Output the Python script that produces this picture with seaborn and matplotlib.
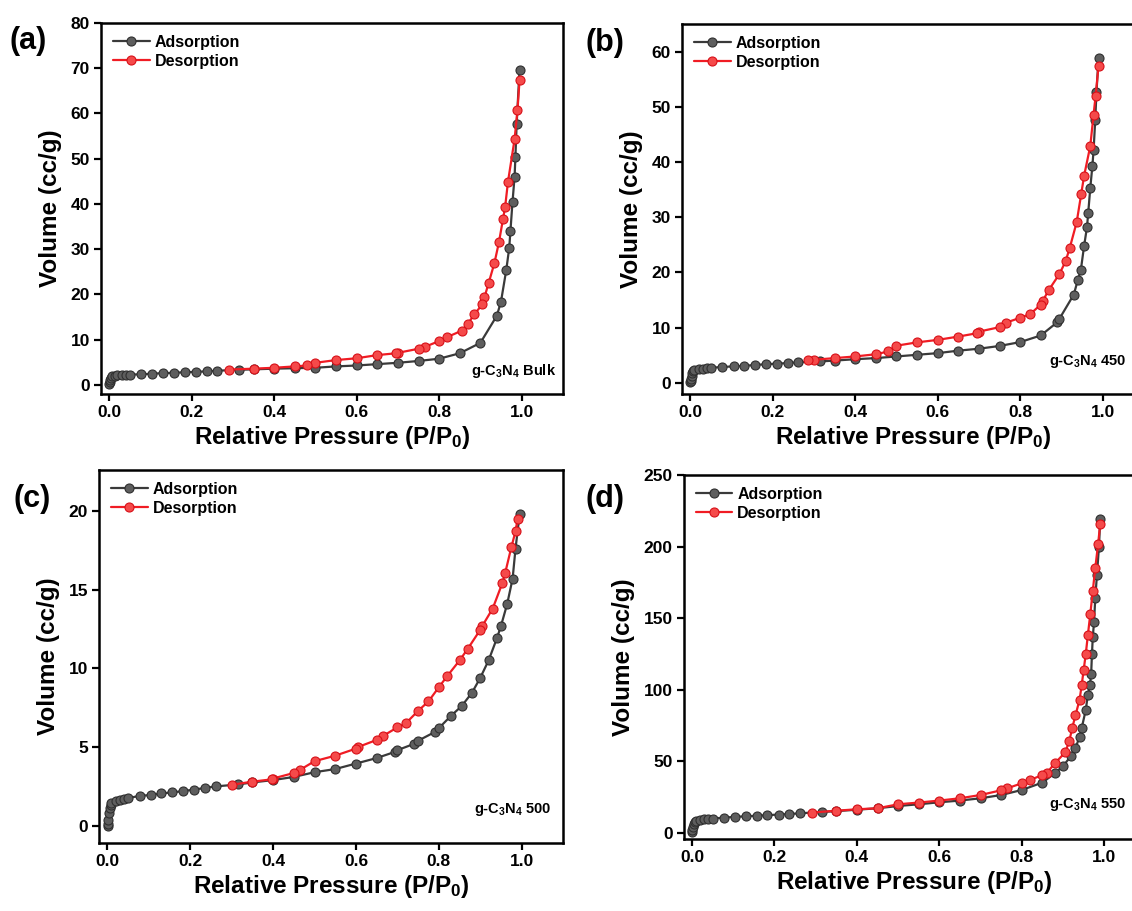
import numpy as np
import pandas as pd
import matplotlib
matplotlib.use("Agg")
import matplotlib.pyplot as plt
import seaborn as sns

# ---------------- data ----------------
a_ads_p = [0.0005, 0.001, 0.002, 0.004, 0.007, 0.013, 0.02, 0.03, 0.04, 0.05, 0.078, 0.104, 0.13, 0.157,
           0.183, 0.21, 0.236, 0.262, 0.315, 0.35, 0.40, 0.45, 0.50, 0.55, 0.60, 0.65, 0.70, 0.75, 0.80,
           0.85, 0.90, 0.94, 0.95, 0.963, 0.97, 0.973, 0.978, 0.983, 0.985, 0.988, 0.995]
a_ads_v = [0.3, 0.6, 1.0, 1.5, 1.9, 2.0, 2.1, 2.2, 2.25, 2.3, 2.35, 2.5, 2.6, 2.7,
           2.8, 2.9, 3.0, 3.15, 3.35, 3.45, 3.6, 3.7, 3.8, 4.1, 4.3, 4.6, 4.9, 5.3, 5.8,
           7.0, 9.3, 15.3, 18.4, 25.5, 30.3, 34.1, 40.5, 46.0, 50.4, 57.6, 69.7]
a_des_p = [0.995, 0.99, 0.983, 0.967, 0.96, 0.955, 0.945, 0.934, 0.92, 0.91, 0.905, 0.885, 0.87, 0.855,
           0.82, 0.80, 0.765, 0.75, 0.70, 0.695, 0.65, 0.60, 0.55, 0.50, 0.48, 0.45, 0.40, 0.35, 0.29]
a_des_v = [67.3, 60.7, 54.3, 44.9, 39.3, 36.7, 31.5, 26.9, 22.5, 19.4, 17.8, 15.6, 13.5, 12.0,
           10.6, 9.7, 8.4, 8.0, 7.1, 7.0, 6.6, 5.9, 5.5, 4.9, 4.3, 4.1, 3.8, 3.6, 3.4]

b_ads_p = [0.0005, 0.001, 0.002, 0.003, 0.005, 0.007, 0.01, 0.02, 0.03, 0.04, 0.05, 0.078, 0.105, 0.13,
           0.157, 0.183, 0.21, 0.236, 0.262, 0.315, 0.35, 0.40, 0.45, 0.50, 0.55, 0.60, 0.65, 0.70,
           0.75, 0.80, 0.85, 0.89, 0.895, 0.93, 0.94, 0.947, 0.955, 0.962, 0.965, 0.97, 0.975,
           0.978, 0.982, 0.985, 0.99]
b_ads_v = [0.1, 0.4, 0.8, 1.3, 1.8, 2.2, 2.4, 2.5, 2.6, 2.7, 2.75, 2.9, 3.0, 3.1,
           3.25, 3.4, 3.5, 3.6, 3.75, 3.9, 4.05, 4.3, 4.5, 4.8, 5.1, 5.4, 5.85, 6.2,
           6.7, 7.4, 8.6, 11.0, 11.6, 16.0, 18.7, 20.4, 24.8, 28.2, 30.8, 35.3, 39.2,
           42.1, 47.6, 52.6, 58.8]
b_des_p = [0.99, 0.983, 0.978, 0.97, 0.955, 0.948, 0.937, 0.92, 0.91, 0.895, 0.87, 0.855, 0.85, 0.825,
           0.80, 0.765, 0.75, 0.70, 0.695, 0.65, 0.60, 0.55, 0.50, 0.48, 0.45, 0.40, 0.35, 0.30, 0.285]
b_des_v = [57.4, 52.0, 48.6, 42.9, 37.5, 34.2, 29.1, 24.4, 22.0, 19.7, 16.9, 14.9, 14.2, 12.5,
           11.8, 10.9, 10.1, 9.3, 9.0, 8.4, 7.8, 7.35, 6.75, 5.7, 5.2, 4.8, 4.5, 4.2, 4.2]

c_ads_p = [0.0005, 0.001, 0.002, 0.004, 0.006, 0.008, 0.01, 0.02, 0.03, 0.04, 0.05, 0.078, 0.105, 0.13,
           0.157, 0.183, 0.21, 0.236, 0.262, 0.315, 0.35, 0.40, 0.45, 0.50, 0.55, 0.60, 0.65, 0.695,
           0.70, 0.74, 0.75, 0.79, 0.80, 0.83, 0.855, 0.88, 0.90, 0.92, 0.94, 0.95, 0.965, 0.978,
           0.985, 0.995]
c_ads_v = [0.0, 0.1, 0.35, 0.8, 1.1, 1.3, 1.45, 1.55, 1.65, 1.7, 1.75, 1.9, 1.95, 2.05,
           2.12, 2.2, 2.3, 2.4, 2.5, 2.62, 2.75, 2.9, 3.1, 3.4, 3.6, 3.95, 4.3, 4.7,
           4.8, 5.2, 5.4, 5.95, 6.2, 7.0, 7.6, 8.45, 9.4, 10.5, 11.9, 12.7, 14.1, 15.7,
           17.6, 19.8]
c_des_p = [0.99, 0.985, 0.975, 0.96, 0.953, 0.93, 0.905, 0.90, 0.87, 0.85, 0.82, 0.80, 0.775, 0.75,
           0.72, 0.70, 0.665, 0.65, 0.605, 0.60, 0.55, 0.50, 0.465, 0.45, 0.40, 0.398, 0.35, 0.30]
c_des_v = [19.5, 18.7, 17.7, 16.05, 15.4, 13.8, 12.7, 12.45, 11.25, 10.5, 9.5, 8.8, 7.9, 7.3,
           6.5, 6.25, 5.7, 5.45, 5.0, 4.9, 4.45, 4.1, 3.55, 3.35, 3.0, 2.95, 2.8, 2.6]

d_ads_p = [0.0005, 0.001, 0.002, 0.004, 0.007, 0.01, 0.02, 0.03, 0.04, 0.05, 0.078, 0.105, 0.13, 0.157,
           0.183, 0.21, 0.236, 0.262, 0.315, 0.35, 0.40, 0.45, 0.50, 0.55, 0.60, 0.65, 0.70, 0.75,
           0.80, 0.85, 0.88, 0.90, 0.92, 0.93, 0.94, 0.945, 0.955, 0.96, 0.965, 0.968, 0.97, 0.972,
           0.975, 0.978, 0.982, 0.987, 0.99]
d_ads_v = [0.5, 2.0, 4.0, 6.0, 7.5, 8.4, 8.9, 9.3, 9.6, 9.8, 10.5, 11.0, 11.4, 11.8,
           12.2, 12.6, 13.0, 13.5, 14.4, 15.0, 16.0, 17.0, 18.6, 19.8, 21.2, 22.4, 24.0, 26.3,
           29.8, 35.0, 41.5, 46.6, 53.8, 59.0, 67.1, 73.0, 85.8, 96.3, 103, 111, 125, 137,
           147, 164, 180, 200, 219]
d_des_p = [0.99, 0.985, 0.978, 0.972, 0.966, 0.96, 0.955, 0.95, 0.945, 0.94, 0.93, 0.922, 0.915, 0.905,
           0.88, 0.86, 0.85, 0.82, 0.80, 0.765, 0.75, 0.70, 0.65, 0.60, 0.55, 0.50, 0.45, 0.40, 0.35, 0.29]
d_des_v = [216, 202, 185, 169, 153, 138, 125, 114, 103, 93, 82, 73, 64, 56,
           48.5, 41.5, 40.3, 36.8, 34.5, 31.0, 29.6, 26.3, 24.0, 22.4, 21.0, 19.8, 17.0, 16.3, 15.3, 14.0]

panel_letters = ["(a)", "(b)", "(c)", "(d)"]
sample_labels = [r"g-C$_3$N$_4$ Bulk", r"g-C$_3$N$_4$ 450", r"g-C$_3$N$_4$ 500", r"g-C$_3$N$_4$ 550"]
series_names = ["Adsorption", "Desorption"]
x_ticks = [0.0, 0.2, 0.4, 0.6, 0.8, 1.0]
y_ticks = [list(range(0, 81, 10)), list(range(0, 61, 10)), list(range(0, 21, 5)), list(range(0, 251, 50))]

# ---------------- style ----------------
sns.set_theme(style="ticks")
plt.rcParams["font.family"] = ["Liberation Sans", "DejaVu Sans"]
plt.rcParams["font.weight"] = "bold"
plt.rcParams["axes.labelweight"] = "bold"
plt.rcParams["text.color"] = "black"
plt.rcParams["axes.labelcolor"] = "black"
plt.rcParams["xtick.color"] = "black"
plt.rcParams["ytick.color"] = "black"
plt.rcParams["mathtext.fontset"] = "custom"
plt.rcParams["mathtext.rm"] = "Liberation Sans:bold"
plt.rcParams["mathtext.it"] = "Liberation Sans:bold"
plt.rcParams["mathtext.bf"] = "Liberation Sans:bold"
plt.rcParams["mathtext.default"] = "rm"

ADS_LINE = "#3a3a3a"
ADS_FACE = "#5e5e5e"
ADS_EDGE = "#2f2f2f"
DES_LINE = "#f01c24"
DES_FACE = "#f54a4a"
DES_EDGE = "#d81018"

fig = plt.figure(figsize=(11.32, 9.11), dpi=100)

positions = [
    [0.0892, 0.5675, 0.408, 0.4073],
    [0.6025, 0.5675, 0.408, 0.4062],
    [0.0875, 0.0746, 0.410, 0.4095],
    [0.6040, 0.0790, 0.408, 0.3996],
]
ylims = [(-2, 80), (-2, 65), (-1.1, 22.6), (-4.5, 250)]
letter_pos = [(0.008, 0.955), (0.517, 0.953), (0.012, 0.452), (0.517, 0.452)]
ann_pos = [(0.985, 0.062), (0.962, 0.088), (0.975, 0.089), (0.958, 0.094)]

datasets = [
    (a_ads_p, a_ads_v, a_des_p, a_des_v),
    (b_ads_p, b_ads_v, b_des_p, b_des_v),
    (c_ads_p, c_ads_v, c_des_p, c_des_v),
    (d_ads_p, d_ads_v, d_des_p, d_des_v),
]

for i, (ap, av, dp, dv) in enumerate(datasets):
    ax = fig.add_axes(positions[i])
    ads = pd.DataFrame({"p": ap, "v": av})
    des = pd.DataFrame({"p": dp, "v": dv})
    sns.lineplot(data=ads, x="p", y="v", ax=ax, sort=False, estimator=None,
                 color=ADS_LINE, lw=1.6, marker="o", markersize=6.5,
                 markerfacecolor=ADS_FACE, markeredgecolor=ADS_EDGE, markeredgewidth=0.8,
                 label=series_names[0], zorder=3)
    sns.lineplot(data=des, x="p", y="v", ax=ax, sort=False, estimator=None,
                 color=DES_LINE, lw=1.6, marker="o", markersize=6.5,
                 markerfacecolor=DES_FACE, markeredgecolor=DES_EDGE, markeredgewidth=0.8,
                 label=series_names[1], zorder=4)
    ax.set_xlim(-0.02, 1.1)
    ax.set_ylim(*ylims[i])
    ax.set_xticks(x_ticks)
    ax.set_yticks(y_ticks[i])
    ax.set_xticklabels([f"{t:.1f}" for t in x_ticks])
    ax.set_xlabel(r"Relative Pressure (P/P$_0$)", fontsize=17.5, fontweight="bold", labelpad=3)
    ax.set_ylabel("Volume (cc/g)", fontsize=17.5, fontweight="bold", labelpad=6)
    for s in ax.spines.values():
        s.set_linewidth(1.8)
        s.set_color("black")
        s.set_visible(True)
    ax.tick_params(axis="both", which="major", direction="out", length=5, width=1.6,
                   labelsize=12.5, colors="black", pad=3)
    for lab in ax.get_xticklabels() + ax.get_yticklabels():
        lab.set_fontweight("bold")
    leg = ax.legend(loc="upper left", frameon=False, handlelength=2.3,
                    handletextpad=0.3, labelspacing=0.25, borderaxespad=0.35,
                    prop={"weight": "bold", "size": 11.5})
    for t in leg.get_texts():
        t.set_color("black")
    ax.text(ann_pos[i][0], ann_pos[i][1], sample_labels[i], transform=ax.transAxes,
            ha="right", va="center", fontsize=10.5, fontweight="bold", color="black")
    fig.text(letter_pos[i][0], letter_pos[i][1], panel_letters[i], fontsize=22,
             fontweight="bold", ha="left", va="center", color="black")

fig.savefig("out.png", dpi=100)
